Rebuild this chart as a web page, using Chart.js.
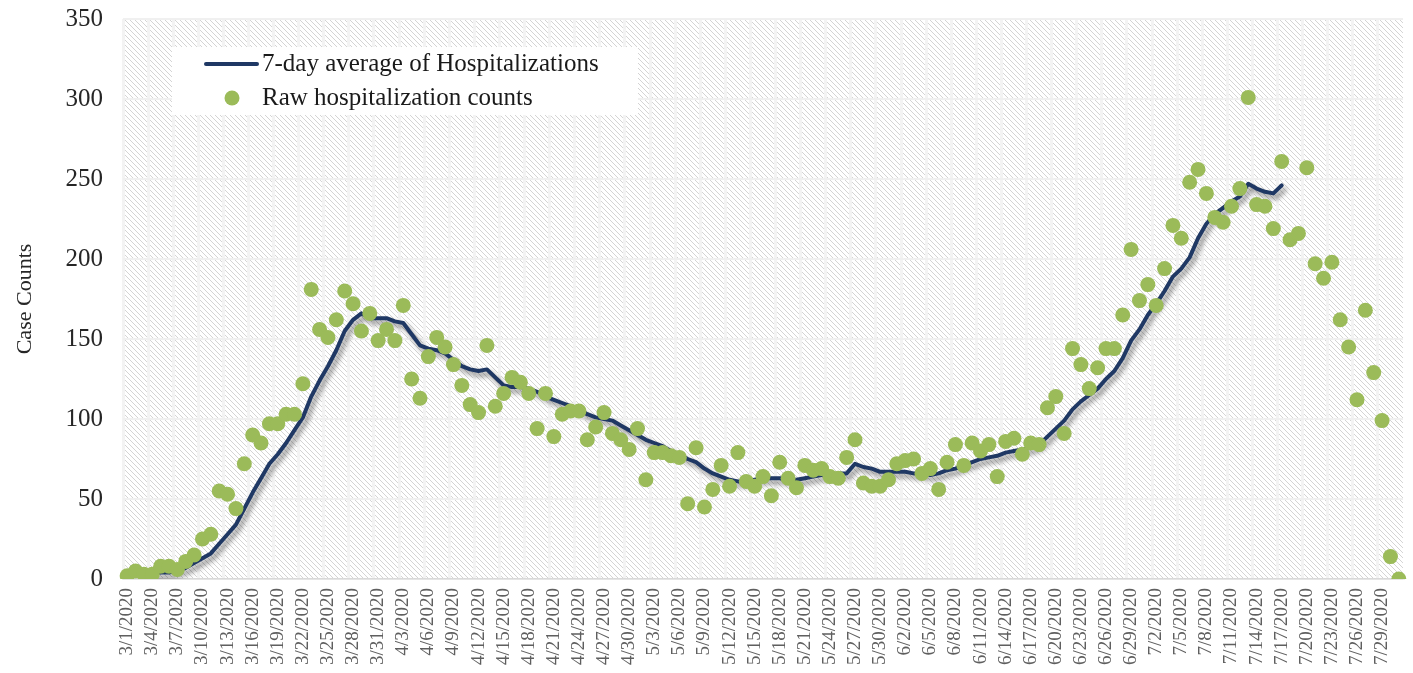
<!DOCTYPE html>
<html>
<head>
<meta charset="utf-8">
<script src="https://cdn.jsdelivr.net/npm/chart.js@4.4.0/dist/chart.umd.min.js"></script>
<style>
  html, body { margin: 0; padding: 0; background: #ffffff; }
  #wrap { width: 1413px; height: 673px; }
</style>
</head>
<body>
<div id="wrap"><canvas id="hosp-chart" width="1413" height="673"></canvas></div>
<script>
// months shown on the x axis: [month, number of days]
const months = [[3, 31], [4, 30], [5, 31], [6, 30], [7, 31]];
const dates = [];
months.forEach(([m, n]) => {
  for (let d = 1; d <= n; d++) dates.push(m + "/" + d + "/2020");
});

// raw daily counts, 3/1 .. 7/31
const rawMarch = [2, 5, 3, 3, 8, 8, 6, 11, 15, 25, 28, 55, 53, 44, 72, 90, 85, 97, 97, 103, 103, 122, 181, 156, 151, 162, 180, 172, 155, 166, 149];
const rawApril = [156, 149, 171, 125, 113, 139, 151, 145, 134, 121, 109, 104, 146, 108, 116, 126, 123, 116, 94, 116, 89, 103, 105, 105, 87, 95, 104, 91, 87, 81];
const rawMay = [94, 62, 79, 79, 77, 76, 47, 82, 45, 56, 71, 58, 79, 61, 58, 64, 52, 73, 63, 57, 71, 68, 69, 64, 63, 76, 87, 60, 58, 58, 62];
const rawJune = [72, 74, 75, 66, 69, 56, 73, 84, 71, 85, 80, 84, 64, 86, 88, 78, 85, 84, 107, 114, 91, 144, 134, 119, 132, 144, 144, 165, 206, 174];
const rawJuly = [184, 171, 194, 221, 213, 248, 256, 241, 226, 223, 233, 244, 301, 234, 233, 219, 261, 212, 216, 257, 197, 188, 198, 162, 145, 112, 168, 129, 99, 14, 0];
const rawCounts = [].concat(rawMarch, rawApril, rawMay, rawJune, rawJuly);

// 7-day average, 3/4 .. 7/17
const avgStart = 3; // index of 3/4
const avgValues = [
  3, 4, 4, 5, 7, 10, 13, 16, 22, 28, 34, 44, 54, 63, 72, 78, 85, 93, 101, 114, 124, 133, 143, 155, 162, 166, 163, 163,
  163, 161, 160, 153, 146, 144, 143, 141, 137, 133, 131, 130, 131, 126, 121, 120, 120, 119, 117, 114, 112, 110, 108, 106, 103, 101, 100, 99, 96, 93,
  90, 87, 85, 83, 80, 78, 75, 73, 69, 66, 64, 62, 61, 61, 62, 63, 63, 63, 62, 62, 63, 64, 65, 65, 66, 66, 72, 70, 69, 67, 67,
  67, 67, 66, 66, 65, 66, 68, 69, 71, 73, 75, 76, 77, 79, 80, 81, 82, 84, 89, 94, 99, 106, 111, 115, 119, 125, 130, 138, 149, 156,
  165, 172, 180, 189, 194, 201, 213, 222, 228, 232, 236, 239, 247, 244, 242, 241, 246
];
const avgSeries = dates.map((_, i) => {
  const k = i - avgStart;
  return k >= 0 && k < avgValues.length ? avgValues[k] : null;
});

const yTicks = [0, 50, 100, 150, 200, 250, 300, 350];

const NAVY = "#1f3864";
const GREEN = "#9bbb59";
const SERIF = "'Liberation Serif', 'DejaVu Serif', serif";

// diagonal hatch like the excel pattern fill
function makeHatch() {
  const c = document.createElement("canvas");
  c.width = 5;
  c.height = 5;
  const g = c.getContext("2d");
  g.fillStyle = "#ffffff";
  g.fillRect(0, 0, 5, 5);
  g.strokeStyle = "#d4d4d4";
  g.lineWidth = 1;
  g.beginPath();
  g.moveTo(-1, -1); g.lineTo(6, 6);
  g.moveTo(-1, 4); g.lineTo(1, 6);
  g.moveTo(4, -1); g.lineTo(6, 1);
  g.stroke();
  return c;
}

const hatchBg = {
  id: "hatchBg",
  beforeDraw(chart) {
    const { ctx, chartArea: a } = chart;
    ctx.save();
    ctx.fillStyle = ctx.createPattern(makeHatch(), "repeat");
    ctx.fillRect(a.left, a.top, a.right - a.left, a.bottom - a.top);
    ctx.restore();
  },
};

// soft drop shadow under the average line
const lineShadow = {
  id: "lineShadow",
  beforeDatasetDraw(chart, args) {
    if (args.index !== 1) return;
    const ctx = chart.ctx;
    ctx.save();
    ctx.shadowColor = "rgba(0,0,0,0.45)";
    ctx.shadowBlur = 5;
    ctx.shadowOffsetX = 3;
    ctx.shadowOffsetY = 4;
  },
  afterDatasetDraw(chart, args) {
    if (args.index !== 1) return;
    chart.ctx.restore();
  },
};

// legend box sitting inside the plot, top left
const boxLegend = {
  id: "boxLegend",
  afterDraw(chart) {
    const ctx = chart.ctx;
    ctx.save();
    ctx.fillStyle = "#ffffff";
    ctx.fillRect(172, 47, 466, 68);
    ctx.strokeStyle = NAVY;
    ctx.lineWidth = 4;
    ctx.lineCap = "round";
    ctx.beginPath();
    ctx.moveTo(206, 64);
    ctx.lineTo(257, 64);
    ctx.stroke();
    ctx.fillStyle = GREEN;
    ctx.beginPath();
    ctx.arc(232, 98, 7.5, 0, Math.PI * 2);
    ctx.fill();
    ctx.fillStyle = "#1a1a1a";
    ctx.font = "25px " + SERIF;
    ctx.textBaseline = "middle";
    ctx.fillText(chart.data.datasets[1].label, 262, 64);
    ctx.fillText(chart.data.datasets[0].label, 262, 98);
    ctx.restore();
  },
};

const ctx = document.getElementById("hosp-chart").getContext("2d");
new Chart(ctx, {
  type: "line",
  data: {
    labels: dates,
    datasets: [
      {
        label: "Raw hospitalization counts",
        data: rawCounts,
        showLine: false,
        pointRadius: 7.5,
        pointHoverRadius: 7.5,
        pointBackgroundColor: GREEN,
        pointBorderWidth: 0,
        borderColor: GREEN,
        order: 0,
      },
      {
        label: "7-day average of Hospitalizations",
        data: avgSeries,
        borderColor: NAVY,
        borderWidth: 4,
        pointRadius: 0,
        tension: 0,
        borderJoinStyle: "round",
        borderCapStyle: "round",
        spanGaps: false,
        order: 1,
      },
    ],
  },
  options: {
    responsive: false,
    animation: false,
    layout: { padding: { top: 19, right: 10, left: 0, bottom: 0 } },
    plugins: {
      legend: { display: false },
      tooltip: { enabled: false },
    },
    scales: {
      x: {
        offset: true,
        afterFit: (s) => {
          s.height = 94;
          s.paddingLeft = 0;
          s.paddingRight = 0;
        },
        border: { display: true, color: "#d9d9d9", width: 1.5 },
        grid: {
          offset: true,
          drawTicks: false,
          lineWidth: 3,
          color: (c) => (c.index % 3 === 0 ? "#f3f3f3" : "rgba(0,0,0,0)"),
        },
        ticks: {
          autoSkip: false,
          maxRotation: 90,
          minRotation: 90,
          padding: 9,
          color: "#5f5f5f",
          font: { family: SERIF, size: 19 },
          callback: (v, i) => (i % 3 === 0 ? dates[i] : ""),
        },
      },
      y: {
        min: 0,
        max: 350,
        afterFit: (s) => {
          s.width = 123;
          s.paddingTop = 0;
          s.paddingBottom = 0;
        },
        afterBuildTicks: (s) => { s.ticks = yTicks.map((v) => ({ value: v })); },
        border: { display: false },
        grid: { drawTicks: false, lineWidth: 2, color: "#f0f0f0" },
        ticks: {
          padding: 20,
          color: "#262626",
          font: { family: SERIF, size: 25 },
        },
        title: {
          display: true,
          text: "Case Counts",
          color: "#262626",
          font: { family: SERIF, size: 22 },
          padding: { top: 12, bottom: 0 },
        },
      },
    },
  },
  plugins: [hatchBg, lineShadow, boxLegend],
});
</script>
</body>
</html>
